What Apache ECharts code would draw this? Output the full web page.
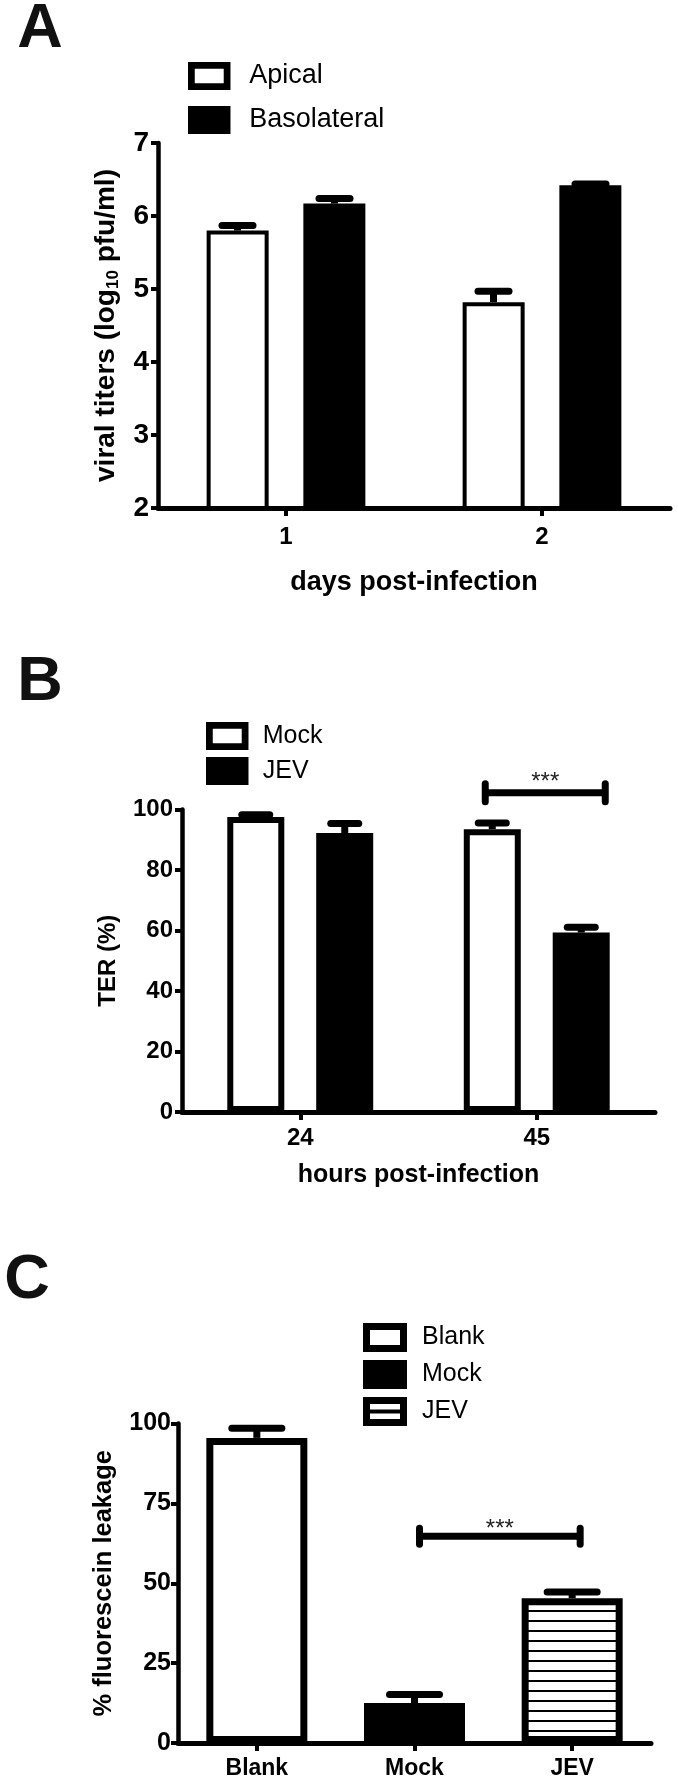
<!DOCTYPE html>
<html><head><meta charset="utf-8">
<script src="https://cdn.jsdelivr.net/npm/echarts@6/dist/echarts.min.js"></script>
<style>html,body{margin:0;padding:0;background:#fff}#c{width:678px;height:1785px}</style>
</head><body><div id="c"></div>
<script>
// ---------- Panel A data ----------
const aDays = ['1', '2'];
const aApical = [5.8, 4.82];
const aApicalErr = [0.07, 0.15];
const aBaso = [6.17, 6.42];
const aBasoErr = [0.07, 0.02];
const aYRange = [2, 7, 1];
// ---------- Panel B data ----------
const bHours = ['24', '45'];
const bMock = [97.5, 93.5];
const bMockErr = [0.8, 2];
const bJev = [92.2, 59.3];
const bJevErr = [3.2, 1.8];
const bSig = [[1, 105.5]];
const bYRange = [0, 100, 20];
// ---------- Panel C data ----------
const cGroups = ['Blank', 'Mock', 'JEV'];
const cValues = [95.5, 12.5, 45.3];
const cErr = [3, 2.7, 2];
const cSig = [[1, 2, 64.7]];
const cYRange = [0, 100, 25];

const FONT = '"Liberation Sans", Arial, Helvetica, sans-serif';
const K = '#000';

// stripe pattern for JEV bar in C
const stripe = document.createElement('canvas');
stripe.width = 10; stripe.height = 10;
const sctx = stripe.getContext('2d');
sctx.fillStyle = '#fff'; sctx.fillRect(0, 0, 10, 10);
sctx.fillStyle = '#000'; sctx.fillRect(0, 0, 10, 2);

const framePath = 'path://M0 0H44V29H0Z M7 7V22H37V7Z';
const solidPath = 'path://M0 0H44V29H0Z';
const stripePath = 'path://M0 0H44V29H0Z M7 7V22H37V7Z M7 12.5H37V16.5H7Z';

function catAxis(gi, cats, fs, margin, name, nameFs, nameGap) {
  return {
    type: 'category', gridIndex: gi, data: cats, boundaryGap: true,
    axisLine: {show: true, onZero: false, lineStyle: {color: K, width: 5}},
    axisTick: {show: true, alignWithLabel: true, length: 8, lineStyle: {color: K, width: 4}},
    axisLabel: {fontSize: fs, fontWeight: 'bold', color: K, fontFamily: FONT, margin: margin},
    splitLine: {show: false},
    name: name, nameLocation: 'middle', nameGap: nameGap,
    nameTextStyle: {fontSize: nameFs, fontWeight: 'bold', color: K, fontFamily: FONT}
  };
}
function valAxis(gi, range, fs, margin, name, nameTextStyle, nameGap) {
  return {
    type: 'value', gridIndex: gi, min: range[0], max: range[1], interval: range[2],
    axisLine: {show: true, lineStyle: {color: K, width: 4.5}},
    axisTick: {show: true, length: 7, lineStyle: {color: K, width: 4}},
    axisLabel: {fontSize: fs, fontWeight: 'bold', color: K, fontFamily: FONT, margin: margin},
    splitLine: {show: false},
    name: name, nameLocation: 'middle', nameGap: nameGap, nameTextStyle: nameTextStyle
  };
}
function errSeries(gi, means, errs, offset, half, lw) {
  return {
    type: 'custom', xAxisIndex: gi, yAxisIndex: gi, z: 3, silent: true,
    data: means.map((m, i) => [i, m, errs[i]]),
    renderItem: function (params, api) {
      const c = api.value(0), m = api.value(1), e = api.value(2);
      const p0 = api.coord([c, m]);
      const p1 = api.coord([c, m + e]);
      const x = p0[0] + offset;
      return {type: 'group', children: [
        {type: 'line', shape: {x1: x, y1: p0[1], x2: x, y2: p1[1]}, style: {stroke: K, lineWidth: lw}},
        {type: 'line', shape: {x1: x - half, y1: p1[1], x2: x + half, y2: p1[1]}, style: {stroke: K, lineWidth: lw, lineCap: 'round'}}
      ]};
    }
  };
}
function sigGroup(x1, x2, y, capH, textDy) {
  return {type: 'group', children: [
    {type: 'line', shape: {x1: x1, y1: y, x2: x2, y2: y}, style: {stroke: K, lineWidth: 7}},
    {type: 'line', shape: {x1: x1, y1: y - capH, x2: x1, y2: y + capH}, style: {stroke: K, lineWidth: 7, lineCap: 'round'}},
    {type: 'line', shape: {x1: x2, y1: y - capH, x2: x2, y2: y + capH}, style: {stroke: K, lineWidth: 7, lineCap: 'round'}},
    {type: 'text', style: {x: (x1 + x2) / 2, y: y - textDy, text: '***', fontSize: 24, fontFamily: FONT, fill: '#222', align: 'center', verticalAlign: 'middle'}}
  ]};
}

const option = {
  animation: false,
  grid: [
    {left: 158, right: 8, top: 143, bottom: 1277},
    {left: 182, right: 23, top: 809.5, bottom: 673},
    {left: 178, right: 27, top: 1423.5, bottom: 42}
  ],
  xAxis: [
    catAxis(0, aDays, 24, 17, 'days post-infection', 27, 61),
    catAxis(1, bHours, 24, 14, 'hours post-infection', 25, 51),
    catAxis(2, cGroups, 23, 14, '', 20, 40)
  ],
  yAxis: [
    valAxis(0, aYRange, 28, 9, '{n|viral titers (log}{s|10}{n| pfu/ml)}', {
      rich: {
        n: {fontSize: 28, fontWeight: 'bold', fontFamily: FONT, color: K, lineHeight: 32},
        s: {fontSize: 17, fontWeight: 'bold', fontFamily: FONT, color: K, lineHeight: 14, verticalAlign: 'bottom'}
      }
    }, 36),
    valAxis(1, bYRange, 24, 9, 'TER (%)', {fontSize: 24, fontWeight: 'bold', color: K, fontFamily: FONT}, 62),
    valAxis(2, cYRange, 25, 7, '% fluorescein leakage', {fontSize: 25.5, fontWeight: 'bold', color: K, fontFamily: FONT}, 61)
  ],
  legend: [
    {
      left: 188, top: 62, orient: 'vertical', padding: 0, itemWidth: 44, itemHeight: 28, itemGap: 16,
      selectedMode: false, formatter: n => n.slice(2),
      textStyle: {fontSize: 27, fontFamily: FONT, color: K, padding: [0, 0, 0, 13]},
      data: [
        {name: 'A:Apical', icon: framePath, itemStyle: {color: K, borderWidth: 0}},
        {name: 'A:Basolateral', icon: solidPath, itemStyle: {color: K, borderWidth: 0}}
      ]
    },
    {
      left: 206, top: 722, orient: 'vertical', padding: 0, itemWidth: 43, itemHeight: 28, itemGap: 7,
      selectedMode: false, formatter: n => n.slice(2),
      textStyle: {fontSize: 25, fontFamily: FONT, color: K, padding: [0, 0, 0, 9]},
      data: [
        {name: 'B:Mock', icon: framePath, itemStyle: {color: K, borderWidth: 0}},
        {name: 'B:JEV', icon: solidPath, itemStyle: {color: K, borderWidth: 0}}
      ]
    },
    {
      left: 363, top: 1323, orient: 'vertical', padding: 0, itemWidth: 44, itemHeight: 29, itemGap: 8,
      selectedMode: false, formatter: n => n.slice(2),
      textStyle: {fontSize: 25, fontFamily: FONT, color: K, padding: [0, 0, 0, 10]},
      data: [
        {name: 'C:Blank', icon: framePath, itemStyle: {color: K, borderWidth: 0}},
        {name: 'C:Mock', icon: solidPath, itemStyle: {color: K, borderWidth: 0}},
        {name: 'C:JEV', icon: stripePath, itemStyle: {color: K, borderWidth: 0}}
      ]
    }
  ],
  graphic: [
    {type: 'text', style: {x: 40, y: 29.5, text: 'A', fontSize: 63, fontWeight: 'bold', fontFamily: FONT, fill: '#111', align: 'center', verticalAlign: 'middle'}},
    {type: 'text', style: {x: 40, y: 683, text: 'B', fontSize: 63, fontWeight: 'bold', fontFamily: FONT, fill: '#111', align: 'center', verticalAlign: 'middle'}},
    {type: 'text', style: {x: 27, y: 1281, text: 'C', fontSize: 63, fontWeight: 'bold', fontFamily: FONT, fill: '#111', align: 'center', verticalAlign: 'middle'}}
  ],
  series: [
    // Panel A
    {name: 'A:Apical', type: 'bar', xAxisIndex: 0, yAxisIndex: 0, data: aApical, barWidth: 62, barGap: '56%', z: 2,
      itemStyle: {color: '#fff', borderColor: K, borderWidth: 4}},
    {name: 'A:Basolateral', type: 'bar', xAxisIndex: 0, yAxisIndex: 0, data: aBaso, barWidth: 62, barGap: '56%', z: 2,
      itemStyle: {color: K, borderColor: K, borderWidth: 4}},
    errSeries(0, aApical, aApicalErr, -48.5, 15.5, 7),
    errSeries(0, aBaso, aBasoErr, 48.5, 15.5, 7),
    // Panel B
    {name: 'B:Mock', type: 'bar', xAxisIndex: 1, yAxisIndex: 1, data: bMock, barWidth: 57, barGap: '56%', z: 2,
      itemStyle: {color: '#fff', borderColor: K, borderWidth: 6}},
    {name: 'B:JEV', type: 'bar', xAxisIndex: 1, yAxisIndex: 1, data: bJev, barWidth: 57, barGap: '56%', z: 2,
      itemStyle: {color: K, borderColor: K, borderWidth: 6}},
    errSeries(1, bMock, bMockErr, -44.5, 14, 7),
    errSeries(1, bJev, bJevErr, 44.5, 14, 7),
    {
      type: 'custom', xAxisIndex: 1, yAxisIndex: 1, z: 4, silent: true, data: bSig,
      renderItem: function (params, api) {
        const p = api.coord([api.value(0), api.value(1)]);
        return sigGroup(p[0] - 51.5, p[0] + 68.5, p[1], 9, 10);
      }
    },
    // Panel C
    {name: 'C:Blank', type: 'bar', xAxisIndex: 2, yAxisIndex: 2, barWidth: 101, barGap: '-100%', z: 2,
      data: cGroups.map((g, i) => i === 0 ? cValues[i] : '-'),
      itemStyle: {color: '#fff', borderColor: K, borderWidth: 7}},
    {name: 'C:Mock', type: 'bar', xAxisIndex: 2, yAxisIndex: 2, barWidth: 101, barGap: '-100%', z: 2,
      data: cGroups.map((g, i) => i === 1 ? cValues[i] : '-'),
      itemStyle: {color: K, borderColor: K, borderWidth: 7}},
    {name: 'C:JEV', type: 'bar', xAxisIndex: 2, yAxisIndex: 2, barWidth: 101, barGap: '-100%', z: 2,
      data: cGroups.map((g, i) => i === 2 ? cValues[i] : '-'),
      itemStyle: {color: {image: stripe, repeat: 'repeat'}, borderColor: K, borderWidth: 7}},
    errSeries(2, cValues, cErr, 0, 25, 7),
    {
      type: 'custom', xAxisIndex: 2, yAxisIndex: 2, z: 4, silent: true, data: cSig,
      renderItem: function (params, api) {
        const p1 = api.coord([api.value(0), api.value(2)]);
        const p2 = api.coord([api.value(1), api.value(2)]);
        return sigGroup(p1[0] + 5, p2[0] + 8, p1[1], 8, 7);
      }
    }
  ]
};
const chart = echarts.init(document.getElementById('c'));
chart.setOption(option);
</script>
</body></html>
